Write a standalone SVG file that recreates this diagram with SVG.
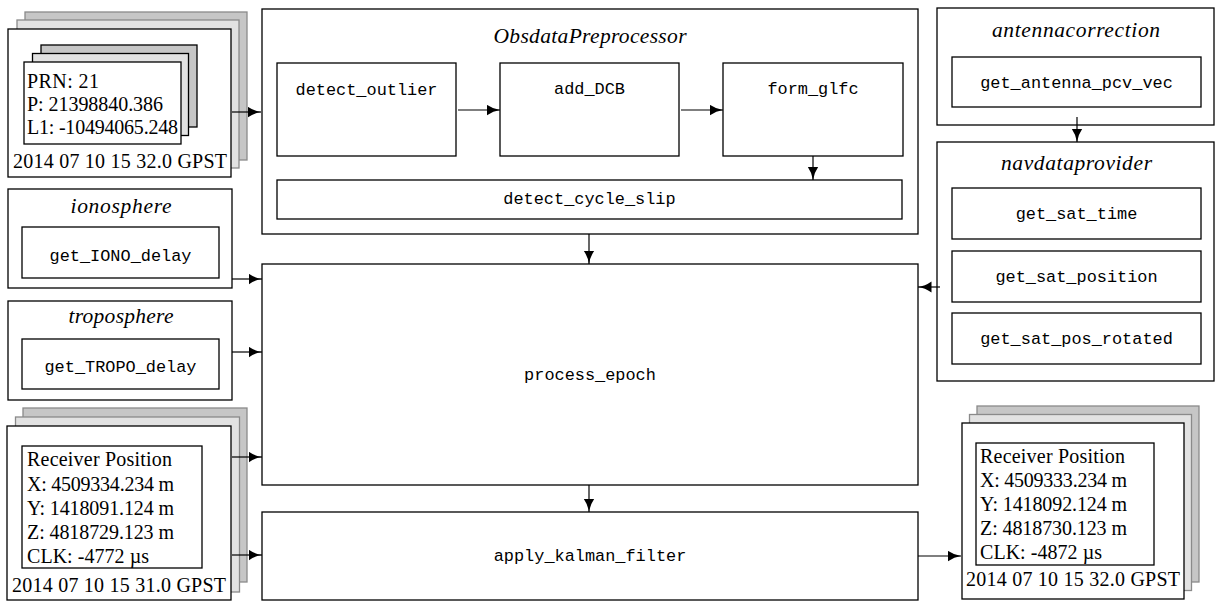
<svg xmlns="http://www.w3.org/2000/svg" width="1215" height="601" viewBox="0 0 1215 601">
  <style>
    .box { fill: #ffffff; stroke: #000000; stroke-width: 1.3; }
    .back2 { fill: #c6c6c6; stroke: #8a8a8a; stroke-width: 1.3; }
    .back1 { fill: #e2e2e2; stroke: #8a8a8a; stroke-width: 1.3; }
    .iback2 { fill: #c6c6c6; stroke: #000000; stroke-width: 1.3; }
    .iback1 { fill: #e2e2e2; stroke: #000000; stroke-width: 1.3; }
    .rm { font-family: "Liberation Serif", "Times New Roman", serif; font-size: 20px; fill: #000000; }
    .it { font-family: "Liberation Serif", "Times New Roman", serif; font-style: italic; font-size: 21.5px; fill: #000000; text-anchor: middle; }
    .tt { font-family: "Liberation Mono", "Courier New", monospace; font-size: 16.9px; fill: #000000; text-anchor: middle; }
    .mid { text-anchor: middle; }
    .conn line { stroke: #000000; stroke-width: 1.2; fill: none; marker-end: url(#head); }
  </style>
  <defs>
    <!-- latex-style filled arrow tip -->
    <marker id="head" markerUnits="userSpaceOnUse" markerWidth="15" markerHeight="12" refX="13.5" refY="5.5" orient="auto">
      <path d="M0,0 Q6.5,4.6 13.5,5.5 Q6.5,6.4 0,11 Z" fill="#000000"/>
    </marker>
  </defs>

  <!-- observation data stack (input) -->
  <g id="obs-input">
    <rect class="back2" x="25" y="12" width="222" height="148"/>
    <rect class="back1" x="17" y="20" width="222" height="148"/>
    <rect class="box" x="8" y="29" width="223" height="148"/>
    <rect class="iback2" x="41" y="45" width="156" height="82"/>
    <rect class="iback1" x="32.5" y="53.5" width="156" height="82"/>
    <rect class="box" x="24" y="62" width="157" height="82"/>
    <text class="rm" x="27" y="87.5" textLength="72">PRN: 21</text>
    <text class="rm" x="27" y="110.5" textLength="136">P: 21398840.386</text>
    <text class="rm" x="27" y="133.5" textLength="151">L1: -10494065.248</text>
    <text class="rm mid" x="120" y="168" textLength="214">2014 07 10 15 32.0 GPST</text>
  </g>

  <!-- ionosphere -->
  <g id="ionosphere">
    <rect class="box" x="8" y="189" width="224" height="99"/>
    <text class="it" x="121" y="213" textLength="101">ionosphere</text>
    <rect class="box" x="22" y="227" width="197" height="51"/>
    <text class="tt" x="120.5" y="261">get_IONO_delay</text>
  </g>

  <!-- troposphere -->
  <g id="troposphere">
    <rect class="box" x="8" y="301" width="224" height="99"/>
    <text class="it" x="121" y="323" textLength="105">troposphere</text>
    <rect class="box" x="22" y="339" width="197" height="50"/>
    <text class="tt" x="120.5" y="372">get_TROPO_delay</text>
  </g>

  <!-- receiver position stack (previous epoch) -->
  <g id="rx-prev">
    <rect class="back2" x="23" y="408" width="224" height="174"/>
    <rect class="back1" x="15.5" y="417" width="224" height="175"/>
    <rect class="box" x="7" y="426" width="224" height="174"/>
    <rect class="box" x="22" y="446" width="180" height="122"/>
    <text class="rm" x="27" y="466" textLength="145">Receiver Position</text>
    <text class="rm" x="27" y="490.5" textLength="147">X: 4509334.234 m</text>
    <text class="rm" x="27" y="515" textLength="147">Y: 1418091.124 m</text>
    <text class="rm" x="27" y="539" textLength="147">Z: 4818729.123 m</text>
    <text class="rm" x="27" y="562.5" textLength="122">CLK: -4772 µs</text>
    <text class="rm mid" x="119" y="592" textLength="214">2014 07 10 15 31.0 GPST</text>
  </g>

  <!-- observation preprocessing -->
  <g id="obsdata-preprocessor">
    <rect class="box" x="262" y="9" width="656" height="225"/>
    <text class="it" x="590" y="43" textLength="193">ObsdataPreprocessor</text>
    <rect class="box" x="277" y="63" width="179" height="93"/>
    <text class="tt" x="366.5" y="95">detect_outlier</text>
    <rect class="box" x="500" y="63" width="179" height="93"/>
    <text class="tt" x="589.5" y="93.5">add_DCB</text>
    <rect class="box" x="723" y="63" width="180" height="93"/>
    <text class="tt" x="813" y="93.5">form_glfc</text>
    <rect class="box" x="277" y="180" width="625" height="39"/>
    <text class="tt" x="589.5" y="204">detect_cycle_slip</text>
  </g>

  <!-- epoch processing -->
  <g id="process-epoch">
    <rect class="box" x="262" y="264" width="656" height="221"/>
    <text class="tt" x="590" y="380">process_epoch</text>
  </g>

  <!-- kalman filter -->
  <g id="kalman">
    <rect class="box" x="262" y="512" width="656" height="88"/>
    <text class="tt" x="590" y="561">apply_kalman_filter</text>
  </g>

  <!-- antenna correction -->
  <g id="antennacorrection">
    <rect class="box" x="937" y="8" width="277" height="117"/>
    <text class="it" x="1076" y="37" textLength="168">antennacorrection</text>
    <rect class="box" x="952" y="57" width="249" height="50"/>
    <text class="tt" x="1076.5" y="87.5">get_antenna_pcv_vec</text>
  </g>

  <!-- navigation data provider -->
  <g id="navdataprovider">
    <rect class="box" x="937" y="142" width="277" height="239"/>
    <text class="it" x="1076.5" y="170" textLength="151">navdataprovider</text>
    <rect class="box" x="952" y="188" width="249" height="51"/>
    <text class="tt" x="1076.5" y="218.5">get_sat_time</text>
    <rect class="box" x="952" y="251" width="249" height="51"/>
    <text class="tt" x="1076.5" y="281.5">get_sat_position</text>
    <rect class="box" x="952" y="313" width="249" height="51"/>
    <text class="tt" x="1076.5" y="343.5">get_sat_pos_rotated</text>
  </g>

  <!-- receiver position stack (current epoch) -->
  <g id="rx-next">
    <rect class="back2" x="977" y="406" width="222" height="176"/>
    <rect class="back1" x="969.5" y="414.5" width="222" height="176"/>
    <rect class="box" x="962" y="423" width="222" height="176"/>
    <rect class="box" x="976" y="443" width="178" height="122"/>
    <text class="rm" x="980" y="463" textLength="145">Receiver Position</text>
    <text class="rm" x="980" y="487" textLength="147">X: 4509333.234 m</text>
    <text class="rm" x="980" y="511" textLength="147">Y: 1418092.124 m</text>
    <text class="rm" x="980" y="535" textLength="147">Z: 4818730.123 m</text>
    <text class="rm" x="980" y="559" textLength="122">CLK: -4872 µs</text>
    <text class="rm mid" x="1073" y="586" textLength="214">2014 07 10 15 32.0 GPST</text>
  </g>

  <!-- connectors -->
  <g id="connectors" class="conn">
    <line x1="232" y1="112" x2="261" y2="112"/>
    <line x1="458" y1="110" x2="500" y2="110"/>
    <line x1="681" y1="110" x2="723" y2="110"/>
    <line x1="813" y1="156" x2="813" y2="180"/>
    <line x1="589" y1="234" x2="589" y2="264"/>
    <line x1="232" y1="279" x2="262" y2="279"/>
    <line x1="232" y1="352" x2="262" y2="352"/>
    <line x1="232" y1="457" x2="262" y2="457"/>
    <line x1="232" y1="555" x2="262" y2="555"/>
    <line x1="589" y1="485" x2="589" y2="512"/>
    <line x1="1077" y1="117" x2="1077" y2="142"/>
    <line x1="940" y1="287" x2="918" y2="287"/>
    <line x1="918" y1="556" x2="961" y2="556"/>
  </g>
</svg>
